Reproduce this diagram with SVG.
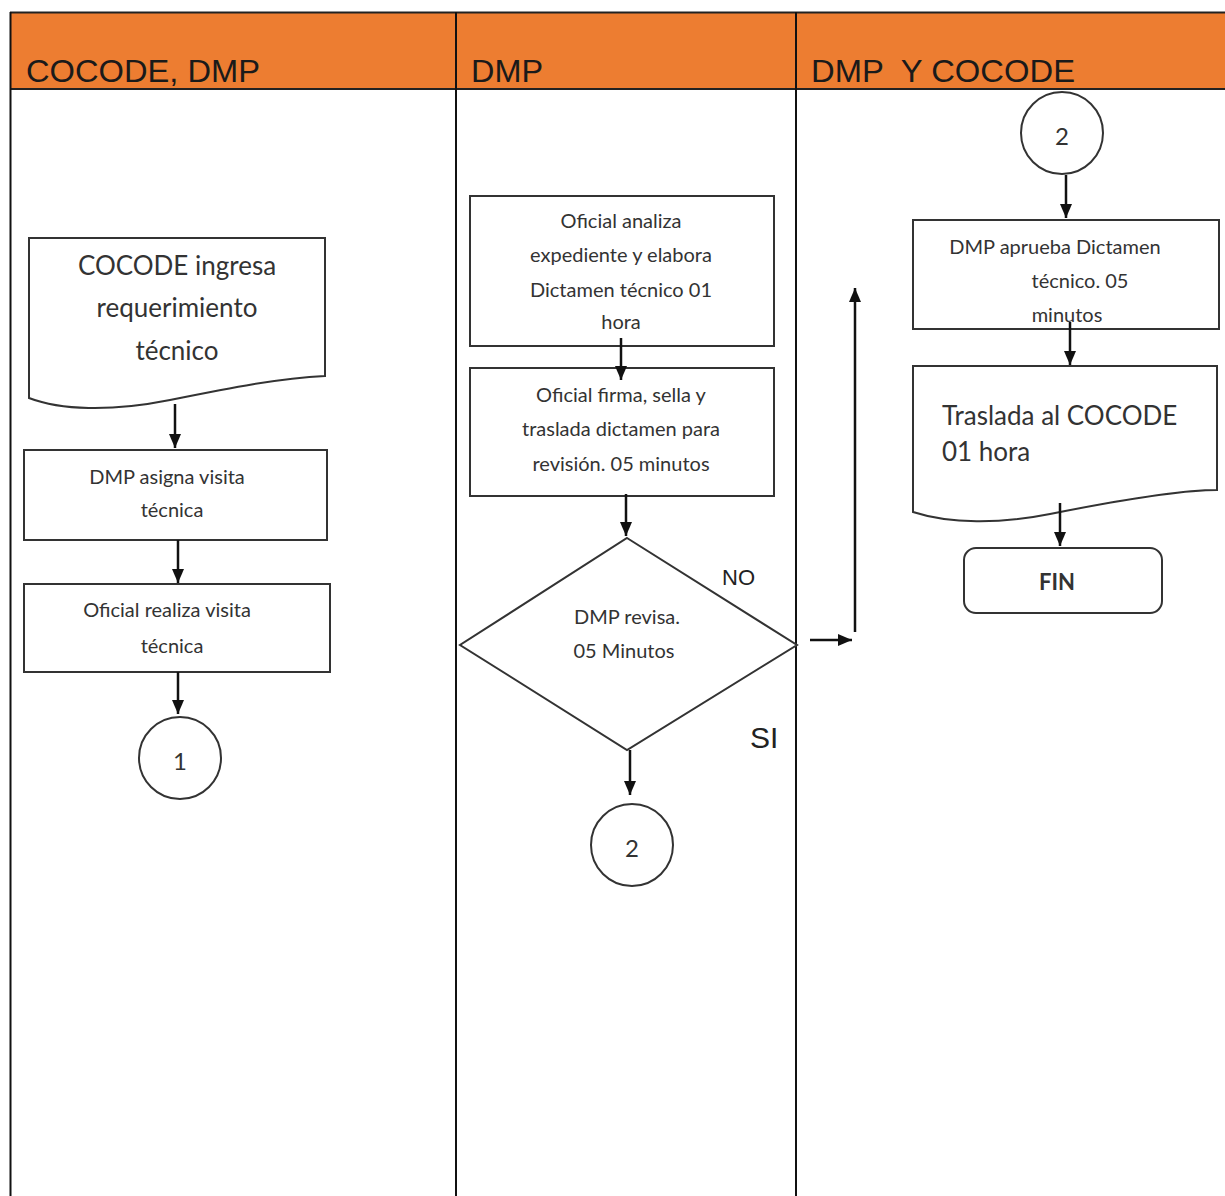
<svg xmlns="http://www.w3.org/2000/svg" width="1225" height="1196" viewBox="0 0 1225 1196">
<defs>
<marker id="ah" viewBox="0 0 14 12" refX="14" refY="6" markerWidth="14" markerHeight="12" orient="auto-start-reverse" markerUnits="userSpaceOnUse">
<path d="M0,0 L14,6 L0,12 z" fill="#111"/>
</marker>
<style>
.lane{fill:none;stroke:#111;stroke-width:2}
.hdr{font-family:"Liberation Sans",Arial,sans-serif;font-size:31px;fill:#1a1a1a;white-space:pre}
.box{fill:#fff;stroke:#333;stroke-width:2}
.t{font-family:Lato,"Open Sans",sans-serif;fill:#333;text-anchor:middle}
.s20{font-size:20px}
.s24{font-size:24px}
.s26{font-size:26px}
.conn{fill:none;stroke:#111;stroke-width:2.5}
.lab{font-family:"Liberation Sans",Arial,sans-serif;fill:#222}
</style>
</defs>
<rect x="0" y="0" width="1225" height="1196" fill="#fff"/>
<g id="header">
<rect x="10" y="12" width="1215" height="77" fill="#ED7D31"/>
<line x1="10" y1="12.5" x2="1225" y2="12.5" stroke="#222" stroke-width="2"/>
<line x1="10" y1="89" x2="1225" y2="89" stroke="#222" stroke-width="2"/>
<text class="hdr" x="26" y="82" textLength="234" lengthAdjust="spacingAndGlyphs">COCODE, DMP</text>
<text class="hdr" x="471" y="82" textLength="72" lengthAdjust="spacingAndGlyphs">DMP</text>
<text class="hdr" x="811" y="82" textLength="264" lengthAdjust="spacingAndGlyphs">DMP  Y COCODE</text>
</g>
<g id="lanes">
<line class="lane" x1="10.5" y1="12" x2="10.5" y2="1196"/>
<line class="lane" x1="456" y1="12" x2="456" y2="1196"/>
<line class="lane" x1="796" y1="12" x2="796" y2="1196"/>
</g>
<g id="n_cocode_ingresa">
<path class="box" d="M29,238 H325 V376 C280,378 230,388 170,400 C110,412 60,410 29,398 Z"/>
<text class="t s26" x="177" y="275">COCODE ingresa</text>
<text class="t s26" x="177" y="317">requerimiento</text>
<text class="t s26" x="177" y="360">técnico</text>
</g>
<g id="n_asigna">
<rect class="box" x="24" y="450" width="303" height="90"/>
<text class="t s20" x="167" y="484">DMP asigna visita</text>
<text class="t s20" x="172" y="517">técnica</text>
</g>
<g id="n_realiza">
<rect class="box" x="24" y="584" width="306" height="88"/>
<text class="t s20" x="167" y="617">Oficial realiza visita</text>
<text class="t s20" x="172" y="653">técnica</text>
</g>
<g id="n_c1">
<circle class="box" cx="180" cy="758" r="41"/>
<text class="t s24" x="180" y="770">1</text>
</g>
<g id="n_analiza">
<rect class="box" x="470" y="196" width="304" height="150"/>
<text class="t s20" x="621" y="228">Oficial analiza</text>
<text class="t s20" x="621" y="262">expediente y elabora</text>
<text class="t s20" x="621" y="297">Dictamen técnico 01</text>
<text class="t s20" x="621" y="329">hora</text>
</g>
<g id="n_firma">
<rect class="box" x="470" y="368" width="304" height="128"/>
<text class="t s20" x="621" y="402">Oficial firma, sella y</text>
<text class="t s20" x="621" y="436">traslada dictamen para</text>
<text class="t s20" x="621" y="471">revisión. 05 minutos</text>
</g>
<g id="n_revisa">
<polygon class="box" points="627,538 797,645 627,750 460,645"/>
<text class="t s20" x="627" y="624">DMP revisa.</text>
<text class="t s20" x="624" y="658">05 Minutos</text>
</g>
<g id="n_c2a">
<circle class="box" cx="632" cy="845" r="41"/>
<text class="t s24" x="632" y="857">2</text>
</g>
<g id="n_c2b">
<circle class="box" cx="1062" cy="133" r="41"/>
<text class="t s24" x="1062" y="145">2</text>
</g>
<g id="n_aprueba">
<rect class="box" x="913" y="220" width="306" height="109"/>
<text class="t s20" x="1055" y="254">DMP aprueba Dictamen</text>
<text class="t s20" x="1080" y="288">técnico. 05</text>
<text class="t s20" x="1067" y="322">minutos</text>
</g>
<g id="n_traslada">
<path class="box" d="M913,366 H1217 V490 C1180,490 1120,500 1050,514 C1000,524 950,524 913,512 Z"/>
<text class="t s26" x="942" y="425" style="text-anchor:start">Traslada al COCODE</text>
<text class="t s26" x="942" y="461" style="text-anchor:start">01 hora</text>
</g>
<g id="n_fin">
<rect class="box" x="964" y="548" width="198" height="65" rx="12"/>
<text class="t" x="1057" y="590" font-size="22" font-weight="bold" fill="#222">FIN</text>
</g>
<g id="connectors">
<line class="conn" x1="175" y1="404" x2="175" y2="448" marker-end="url(#ah)"/>
<line class="conn" x1="178" y1="540" x2="178" y2="583" marker-end="url(#ah)"/>
<line class="conn" x1="178" y1="672" x2="178" y2="714" marker-end="url(#ah)"/>
<line class="conn" x1="621" y1="338" x2="621" y2="380" marker-end="url(#ah)"/>
<line class="conn" x1="626" y1="494" x2="626" y2="536" marker-end="url(#ah)"/>
<line class="conn" x1="630" y1="750" x2="630" y2="795" marker-end="url(#ah)"/>
<line class="conn" x1="810" y1="640" x2="852" y2="640" marker-end="url(#ah)"/>
<line class="conn" x1="855" y1="632" x2="855" y2="288" marker-end="url(#ah)"/>
<line class="conn" x1="1066" y1="175" x2="1066" y2="218" marker-end="url(#ah)"/>
<line class="conn" x1="1070" y1="322" x2="1070" y2="365" marker-end="url(#ah)"/>
<line class="conn" x1="1060" y1="503" x2="1060" y2="546" marker-end="url(#ah)"/>
<text class="lab" x="722" y="585" font-size="22">NO</text>
<text class="lab" x="750" y="748" font-size="30">SI</text>
</g>
</svg>
